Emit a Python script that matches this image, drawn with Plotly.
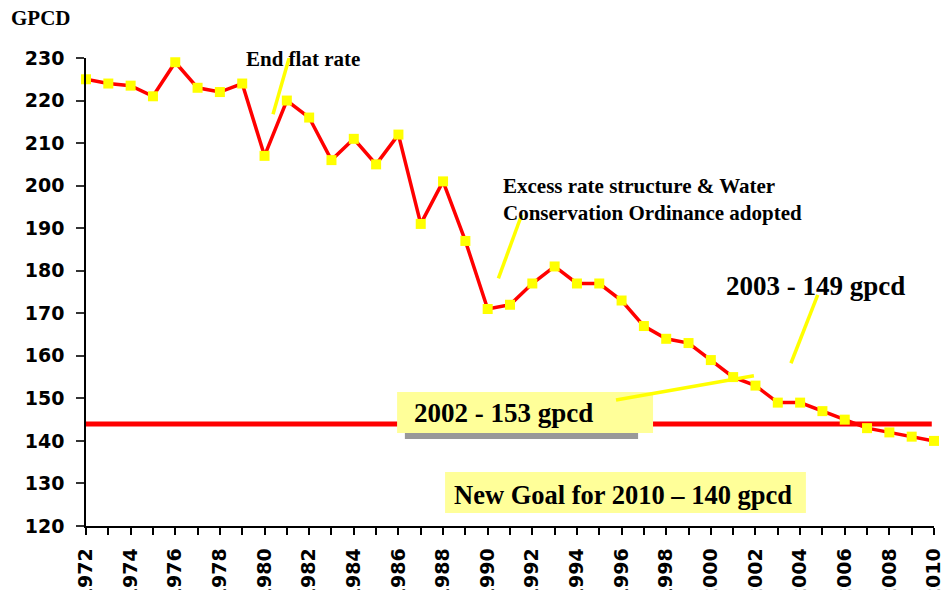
import plotly.graph_objects as go

# ---- data ----
years = list(range(1972, 2011))
gpcd = [225, 224, 223.5, 221, 229, 223, 222, 224, 207, 220,
        216, 206, 211, 205, 212, 191, 201, 187, 171, 172,
        177, 181, 177, 177, 173, 167, 164, 163, 159, 155,
        153, 149, 149, 147, 145, 143, 142, 141, 140]
goal_years = [1972, 2009.9]
goal_value = 144
y_ticks = list(range(120, 231, 10))

SERIF = "Liberation Serif"
SANS = "DejaVu Sans"
YELLOW = "#FFFF00"
PALE = "#FFFF99"

fig = go.Figure()

fig.add_trace(go.Scatter(
    x=goal_years, y=[goal_value, goal_value], mode="lines",
    line=dict(color="#FF0000", width=5), cliponaxis=False,
    hoverinfo="skip", showlegend=False))

fig.add_trace(go.Scatter(
    x=years, y=gpcd, mode="lines+markers",
    line=dict(color="#FF0000", width=3.5),
    marker=dict(symbol="square", size=10, color=YELLOW, line=dict(width=0)),
    cliponaxis=False, showlegend=False))

shapes = [
    # text boxes (shadow then box)
    dict(type="rect", x0=1986.29, x1=1996.74, y0=140.46, y1=149.0,
         fillcolor="#999999", line=dict(width=0), layer="above"),
    dict(type="rect", x0=1985.94, x1=1997.41, y0=141.87, y1=151.5,
         fillcolor=PALE, line=dict(width=0), layer="above"),
    dict(type="rect", x0=1988.09, x1=2004.26, y0=123.07, y1=132.7,
         fillcolor=PALE, line=dict(width=0), layer="above"),
    # yellow pointer lines
    dict(type="line", x0=1980.38, y0=216.8, x1=1981.14, y1=230.7,
         line=dict(color=YELLOW, width=3.5), layer="above"),
    dict(type="line", x0=1990.48, y0=178.2, x1=1991.52, y1=193.1,
         line=dict(color=YELLOW, width=3.5), layer="above"),
    dict(type="line", x0=2003.59, y0=158.25, x1=2004.79, y1=174.3,
         line=dict(color=YELLOW, width=3.5), layer="above"),
    dict(type="line", x0=1995.75, y0=149.6, x1=2001.93, y1=155.3,
         line=dict(color=YELLOW, width=3.5), layer="above"),
    # left frame line
    dict(type="line", xref="paper", yref="paper",
         x0=-84/848, x1=-84/848, y0=-70/468, y1=1 + 60/468,
         line=dict(color="black", width=2)),
]

def ann(text, x, y, size, xref="x", yref="y", xanchor="left", yanchor="middle"):
    return dict(text=text, x=x, y=y, xref=xref, yref=yref, showarrow=False,
                xanchor=xanchor, yanchor=yanchor, align="left",
                font=dict(family=SERIF, size=size, color="black", weight="bold"))

annotations = [
    ann("GPCD", -77/848, 1 + 40.5/468, 21, xref="paper", yref="paper"),
    ann("End flat rate", 1979.1, 229.8, 21),
    ann("Excess rate structure &amp; Water<br>Conservation Ordinance adopted",
        1990.58, 196.86, 21),
    ann("2003 - 149 gpcd", 2000.6, 176.5, 27),
    ann("2002 - 153 gpcd", 1986.62, 146.57, 27),
    ann("New Goal for 2010 – 140 gpcd", 1988.42, 127.3, 26.5),
]

fig.update_layout(
    width=943, height=582,
    margin=dict(l=78, r=17, t=50, b=64, autoexpand=False),
    paper_bgcolor="white", plot_bgcolor="white",
    shapes=shapes, annotations=annotations,
    showlegend=False,
)

fig.update_xaxes(
    range=[1972, 2010], tick0=1972, dtick=2, tickangle=-90,
    ticks="outside", ticklen=7, tickwidth=1.5, tickcolor="black",
    showline=True, linecolor="black", linewidth=1.5,
    showgrid=False, zeroline=False, automargin=False,
    ticklabelstandoff=6,
    tickfont=dict(family=SANS, size=19, color="black", weight="bold"),
    minor=dict(dtick=1, tick0=1972, ticks="outside", ticklen=7,
               tickwidth=1.5, tickcolor="black", showgrid=False),
)
fig.update_yaxes(
    range=[120, 230], tickvals=y_ticks,
    ticks="outside", ticklen=8, tickwidth=1.5, tickcolor="#333333",
    showline=True, linecolor="black", linewidth=1.5,
    showgrid=False, zeroline=False, automargin=False,
    ticklabelstandoff=8,
    tickfont=dict(family=SANS, size=19, color="black", weight="bold"),
)

fig.write_html("out.html")
